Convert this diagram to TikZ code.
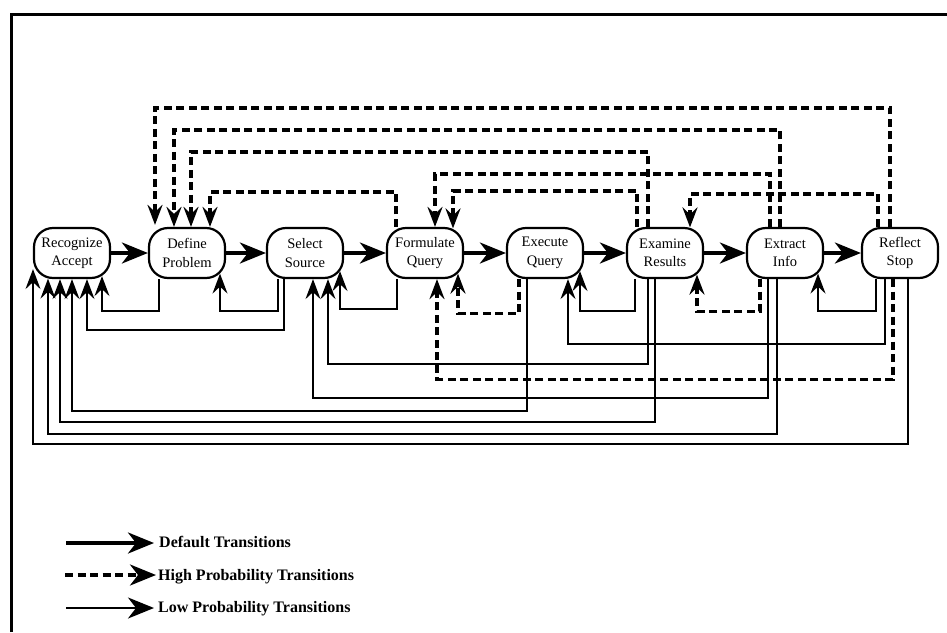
\documentclass[tikz,border=0pt]{standalone}
\usepackage{fontspec}
\setmainfont{Liberation Serif}
\usetikzlibrary{arrows.meta,backgrounds}
\tikzset{
  stnode/.style={draw, line width=2.2pt, rounded corners=19pt, minimum width=76pt,
    minimum height=50pt, inner sep=0pt, align=center, fill=white,
    font=\fontsize{14.5}{18.5}\selectfont},
  deftr/.style={line width=3.6pt, -{Stealth[length=26pt,width=21pt,inset=8pt]}},
  lowtr/.style={line width=2pt, -{Stealth[length=20pt,width=15pt,inset=7pt]}},
  hightr/.style={line width=3.2pt, dash pattern=on 8pt off 4.5pt,
    -{Stealth[length=20pt,width=15pt,inset=7pt]}},
  leglow/.style={line width=2.2pt, -{Stealth[length=26pt,width=21pt,inset=8pt]}},
  leghigh/.style={line width=3.4pt, dash pattern=on 8pt off 4.5pt,
    -{Stealth[length=26pt,width=21pt,inset=8pt]}},
  legtext/.style={anchor=west, inner sep=0pt, text height=11pt, text depth=0pt,
    font=\fontsize{16}{18}\selectfont\bfseries},
  frameline/.style={line width=3pt},
}
\begin{document}
\begin{tikzpicture}[x=1pt,y=1pt]
\useasboundingbox (0,0) rectangle (947,-632);
\draw[frameline] (11,-632) -- (11,-14) -- (947,-14);

% states
\node[stnode] (ra) at (72,-253)  {Recognize\\Accept};
\node[stnode] (dp) at (187,-253) {Define\\Problem};
\node[stnode] (ss) at (305,-253) {Select\\Source};
\node[stnode] (fq) at (425,-253) {Formulate\\Query};
\node[stnode] (eq) at (545,-253) {Execute\\Query};
\node[stnode] (er) at (665,-253) {Examine\\Results};
\node[stnode] (ei) at (785,-253) {Extract\\Info};
\node[stnode] (rs) at (900,-253) {Reflect\\Stop};

% default transitions
\draw[deftr] (ra) -- (dp);
\draw[deftr] (dp) -- (ss);
\draw[deftr] (ss) -- (fq);
\draw[deftr] (fq) -- (eq);
\draw[deftr] (eq) -- (er);
\draw[deftr] (er) -- (ei);
\draw[deftr] (ei) -- (rs);

\begin{scope}[on background layer]
% top: high probability
\draw[hightr] ([xshift=-10pt]rs.north) -- ++(0,119) -| ([xshift=-32pt,yshift=2pt]dp.north);
\draw[hightr] ([xshift=-5pt]ei.north)  -- ++(0,97)  -| ([xshift=-13pt]dp.north);
\draw[hightr] ([xshift=-17pt]er.north) -- ++(0,75)  -| ([xshift=4pt]dp.north);
\draw[hightr] ([xshift=-29pt]fq.north) -- ++(0,35)  -| ([xshift=23pt]dp.north);
\draw[hightr] ([xshift=-15pt]ei.north) -- ++(0,53)  -| ([xshift=10pt]fq.north);
\draw[hightr] ([xshift=-28pt]er.north) -- ++(0,36)  -| ([xshift=28pt,yshift=-1.5pt]fq.north);
\draw[hightr] ([xshift=-22pt]rs.north) -- ++(0,33)  -| ([xshift=25pt,yshift=-0.5pt]er.north);

% bottom: into Recognize Accept
\draw[lowtr] ([xshift=-28pt]dp.south) -- ++(0,-32)  -| ([xshift=30pt,yshift=3pt]ra.south);
\draw[lowtr] ([xshift=-21pt]ss.south) -- ++(0,-51)  -| ([xshift=15pt]ra.south);
\draw[lowtr] ([xshift=-18pt]eq.south) -- ++(0,-132) -| ([xshift=0pt]ra.south);
\draw[lowtr] ([xshift=-10pt]er.south) -- ++(0,-143) -| ([xshift=-12pt]ra.south);
\draw[lowtr] ([xshift=-8pt]ei.south)  -- ++(0,-155) -| ([xshift=-24pt,yshift=0.5pt]ra.south);
\draw[lowtr] ([xshift=8pt]rs.south)   -- ++(0,-165) -| ([xshift=-39pt,yshift=10pt]ra.south);
% into Define Problem
\draw[lowtr] ([xshift=-27pt]ss.south) -- ++(0,-32)  -| ([xshift=33pt,yshift=5.5pt]dp.south);
% into Select Source
\draw[lowtr] ([xshift=-28pt]fq.south) -- ++(0,-30)  -| ([xshift=35pt,yshift=8pt]ss.south);
\draw[lowtr] ([xshift=-17pt]er.south) -- ++(0,-85)  -| ([xshift=23pt]ss.south);
\draw[lowtr] ([xshift=-17pt]ei.south) -- ++(0,-119) -| ([xshift=8pt]ss.south);
% into Formulate Query
\draw[hightr] ([xshift=-7pt]rs.south)  -- ++(0,-100) -| ([xshift=12pt]fq.south);
\draw[hightr] ([xshift=-26pt]eq.south) -- ++(0,-34)  -| ([xshift=33pt,yshift=5.5pt]fq.south);
% into Execute Query
\draw[lowtr] ([xshift=-30pt]er.south) -- ++(0,-32)  -| ([xshift=35pt,yshift=8pt]eq.south);
\draw[lowtr] ([xshift=-15pt]rs.south) -- ++(0,-65)  -| ([xshift=23pt]eq.south);
% into Examine Results
\draw[hightr] ([xshift=-25pt]ei.south) -- ++(0,-32) -| ([xshift=32pt,yshift=4.5pt]er.south);
% into Extract Info
\draw[lowtr] ([xshift=-24pt]rs.south) -- ++(0,-32)  -| ([xshift=33pt,yshift=5.5pt]ei.south);
\end{scope}

% legend
\coordinate (l1s) at (66,-543);
\coordinate (l2s) at (65,-575);
\coordinate (l3s) at (66,-608);
\node[legtext] (l1) at (159,-542) {Default Transitions};
\node[legtext] (l2) at (158,-575) {High Probability Transitions};
\node[legtext] (l3) at (158,-607) {Low Probability Transitions};
\draw[deftr]   (l1s) -- ([xshift=-5pt]l1.west |- l1s);
\draw[leghigh] (l2s) -- ([xshift=-2pt]l2.west |- l2s);
\draw[leglow]  (l3s) -- ([xshift=-4pt]l3.west |- l3s);
\end{tikzpicture}
\end{document}
